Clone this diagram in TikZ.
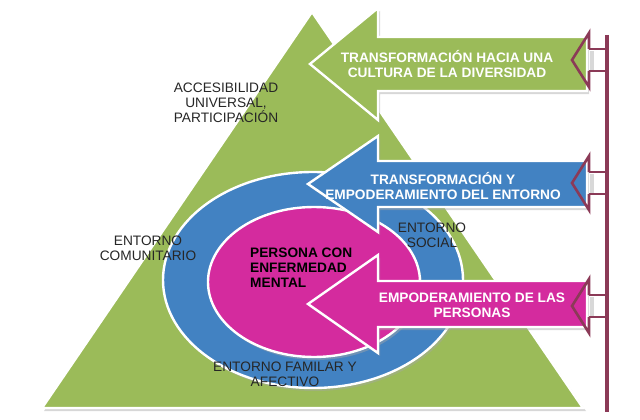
\documentclass[tikz,border=0pt]{standalone}
\usepackage{fontspec}
\setmainfont{Liberation Sans}
\definecolor{pgreen}{HTML}{9BBB59}
\definecolor{pblue}{HTML}{4282C2}
\definecolor{pmag}{HTML}{D42B9E}
\definecolor{pmaroon}{HTML}{8B3A57}
\tikzset{
  wshape/.style={line width=2.4pt, draw=white, line join=miter},
  shadowed/.style={fill=black!35, opacity=0.45},
  lbl/.style={font=\fontsize{13.7}{15}\selectfont, align=center, text=black!85, inner sep=0pt},
  wlbl/.style={font=\bfseries\fontsize{13.7}{15}\selectfont, align=center, text=white, inner sep=0pt},
  blbl/.style={font=\bfseries\fontsize{13.7}{15}\selectfont, align=left, text=black, inner sep=0pt},
  hollow/.style={draw=pmaroon, line width=2.6pt, line join=miter},
}
% big left arrow: tip x, center y, head back x, head half, body half, right end x
\newcommand{\bigarrowpath}[6]{(#1,#2) -- (#3,#2-#4) -- (#3,#2-#5) -- (#6,#2-#5) -- (#6,#2+#5) -- (#3,#2+#5) -- (#3,#2+#4) -- cycle}
\begin{document}
\begin{tikzpicture}[x=1pt,y=-1pt]
\useasboundingbox (0,0) rectangle (640,420);
% triangle
\fill[shadowed] (44,411) -- (314,15) -- (586,411) -- cycle;
\draw[wshape, fill=pgreen] (42,408) -- (312,12) -- (583,408) -- cycle;
% ellipses
\fill[shadowed] (315,283) ellipse [x radius=150, y radius=108];
\draw[wshape, fill=pblue] (313,280) ellipse [x radius=150, y radius=108];
\fill[shadowed] (316,285) ellipse [x radius=106, y radius=75];
\draw[wshape, fill=pmag] (314,282) ellipse [x radius=106, y radius=75];
% maroon vertical line and hollow arrow shafts
\draw[pmaroon, line width=4pt] (607,35) -- (607,412);
\foreach \yc in {60,183,306}{
  \fill[black!30, opacity=0.5] (590,\yc-9) rectangle (594,\yc+11);
  \draw[hollow] (589,\yc-11) -- (607,\yc-11) (589,\yc+11) -- (607,\yc+11);
}
% big arrows
\fill[shadowed, shift={(2,3)}] \bigarrowpath{310}{64}{378}{56}{27}{587};
\draw[wshape, fill=pgreen] \bigarrowpath{310}{64}{378}{56}{27}{587};
\fill[shadowed, shift={(2,3)}] \bigarrowpath{308}{184}{378}{48}{23}{587};
\draw[wshape, fill=pblue] \bigarrowpath{308}{184}{378}{48}{23}{587};
\fill[shadowed, shift={(2,3)}] \bigarrowpath{308}{304}{378}{49}{23}{587};
\draw[wshape, fill=pmag] \bigarrowpath{308}{304}{378}{49}{23}{587};
% hollow arrow heads over big arrows
\foreach \yc in {60,183,306}{
  \draw[hollow] (589,\yc-11) -- (589,\yc-27) -- (572,\yc) -- (589,\yc+27) -- (589,\yc+11);
}
% labels
\node[wlbl] (tcult) at (447,64) {TRANSFORMACIÓN HACIA UNA\\CULTURA DE LA DIVERSIDAD};
\node[wlbl] (temp) at (443,186) {TRANSFORMACIÓN Y\\EMPODERAMIENTO DEL ENTORNO};
\node[wlbl] (tpers) at (472,305) {EMPODERAMIENTO DE LAS\\PERSONAS};
\node[lbl] (acc) at (226,103) {ACCESIBILIDAD\\UNIVERSAL,\\PARTICIPACIÓN};
\node[lbl] (comu) at (148,248) {ENTORNO\\COMUNITARIO};
\node[lbl] (social) at (432,235) {ENTORNO\\SOCIAL};
\node[lbl] (fam) at (285,374) {ENTORNO FAMILAR Y\\AFECTIVO};
\node[blbl, anchor=west] (pers) at (250,268) {PERSONA CON\\ENFERMEDAD\\MENTAL};
\end{tikzpicture}
\end{document}
